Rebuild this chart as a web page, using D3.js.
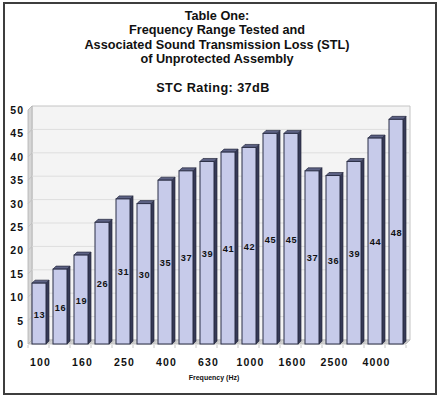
<!DOCTYPE html>
<html><head><meta charset="utf-8">
<script src="https://cdn.jsdelivr.net/npm/d3@7"></script>
<style>html,body{margin:0;padding:0;background:#fff}svg{display:block}text{font-family:"Liberation Sans",Arial,sans-serif;font-weight:bold;fill:#111}</style>
</head><body><svg id="c" width="441" height="399"></svg>
<script>
const titleLines = ["Table One:", "Frequency Range Tested and", "Associated Sound Transmission Loss (STL)", "of Unprotected Assembly"];
const subtitle = "STC Rating: 37dB";
const categories = ["100","125","160","200","250","315","400","500","630","800","1000","1250","1600","2000","2500","3150","4000","5000"];
const values = [13,16,19,26,31,30,35,37,39,41,42,45,45,37,36,39,44,48];
const shownLabels = ["100","160","250","400","630","1000","1600","2500","4000"];
const yTicks = [0,5,10,15,20,25,30,35,40,45,50];
const xTitle = "Frequency (Hz)";

const svg = d3.select("#c");
const X0 = 28, X1 = 406, YB = 344, YT = 110, DX = 4, DY = -4;
const x = d3.scaleBand().domain(categories).range([X0, X1]);
const y = d3.scaleLinear().domain([0, 50]).range([YB, YT]);

// frame
svg.append("rect").attr("x",4).attr("y",3).attr("width",432).attr("height",391)
  .attr("fill","#fff").attr("stroke","#3e3e3e").attr("stroke-width",2);

// titles
const tl = [19.5, 33.8, 48.6, 63.3];
titleLines.forEach((t,i)=>{
  svg.append("text").attr("x",217).attr("y",tl[i]).attr("text-anchor","middle")
    .attr("font-size",12.7).text(t);
});
svg.append("text").attr("x",213).attr("y",92).attr("text-anchor","middle")
  .attr("font-size",12.7).attr("letter-spacing",0.4).text(subtitle);

// back wall
const g = svg.append("g");
g.append("polygon").attr("points",[[X0+DX,YB+DY],[X1+DX,YB+DY],[X1+DX,YT+DY],[X0+DX,YT+DY]].join(" "))
  .attr("fill","#f4f4f4").attr("stroke","#c4c4c4").attr("stroke-width",1);
// left side wall
g.append("polygon").attr("points",[[X0,YB],[X0+DX,YB+DY],[X0+DX,YT+DY],[X0,YT]].join(" "))
  .attr("fill","#d6d6d6").attr("stroke","#b0b0b0").attr("stroke-width",0.8);
// gridlines
yTicks.filter(v=>v>0 && v<50).forEach(v=>{
  g.append("line").attr("x1",X0+DX).attr("x2",X1+DX).attr("y1",y(v)+DY).attr("y2",y(v)+DY)
    .attr("stroke","#dedede").attr("stroke-width",1);
  g.append("line").attr("x1",X0).attr("x2",X0+DX).attr("y1",y(v)).attr("y2",y(v)+DY)
    .attr("stroke","#bdbdbd").attr("stroke-width",0.8);
});
// floor
g.append("polygon").attr("points",[[X0,YB],[X1,YB],[X1+DX,YB+DY],[X0+DX,YB+DY]].join(" "))
  .attr("fill","#d4d4d4").attr("stroke","#b8b8b8").attr("stroke-width",0.8);
// category tick marks
categories.forEach(c=>{
  g.append("line").attr("x1",x(c)).attr("x2",x(c)).attr("y1",YB+1).attr("y2",YB+4)
    .attr("stroke","#c8c8c8").attr("stroke-width",1);
});
g.append("line").attr("x1",X1).attr("x2",X1).attr("y1",YB+1).attr("y2",YB+4).attr("stroke","#c8c8c8");

// y-axis labels
yTicks.forEach(v=>{
  svg.append("text").attr("x",24).attr("y",y(v)+4).attr("text-anchor","end")
    .attr("font-size",10.5).attr("letter-spacing",1).text(v);
});

// bars
const BW = 14, OFF = 4, D = 3;
const bars = svg.append("g");
categories.forEach((c,i)=>{
  const v = values[i];
  const bx = x(c) + OFF, top = y(v), bot = YB;
  const b = bars.append("g");
  // shadow on floor
  b.append("polygon").attr("points",[[bx+BW,bot],[bx+BW+D,bot-D],[bx+BW+D+2,bot-D],[bx+BW+2,bot]].join(" "))
    .attr("fill","#bdbdbd");
  // side
  b.append("polygon").attr("points",[[bx+BW,top],[bx+BW+D,top-D],[bx+BW+D,bot-D],[bx+BW,bot]].join(" "))
    .attr("fill","#363a57").attr("stroke","#25283d").attr("stroke-width",0.7).attr("stroke-linejoin","round");
  // top
  b.append("polygon").attr("points",[[bx,top],[bx+BW,top],[bx+BW+D,top-D],[bx+D,top-D]].join(" "))
    .attr("fill","#5d6284").attr("stroke","#25283d").attr("stroke-width",0.7).attr("stroke-linejoin","round");
  // front
  b.append("rect").attr("x",bx).attr("y",top).attr("width",BW).attr("height",bot-top)
    .attr("fill","#c7cbea").attr("stroke","#2b2f47").attr("stroke-width",1);
  // value label
  b.append("text").attr("x",bx+BW/2+0.5).attr("y",(top+bot)/2+4).attr("text-anchor","middle")
    .attr("font-size",9.2).attr("letter-spacing",0.6).text(v);
});

// category labels
shownLabels.forEach(c=>{
  svg.append("text").attr("x",x(c)+OFF+BW/2+1.5).attr("y",366).attr("text-anchor","middle")
    .attr("font-size",10.5).attr("letter-spacing",1.2).text(c);
});
// x title
svg.append("text").attr("x",214).attr("y",379.5).attr("text-anchor","middle")
  .attr("font-size",7).text(xTitle);
</script></body></html>
